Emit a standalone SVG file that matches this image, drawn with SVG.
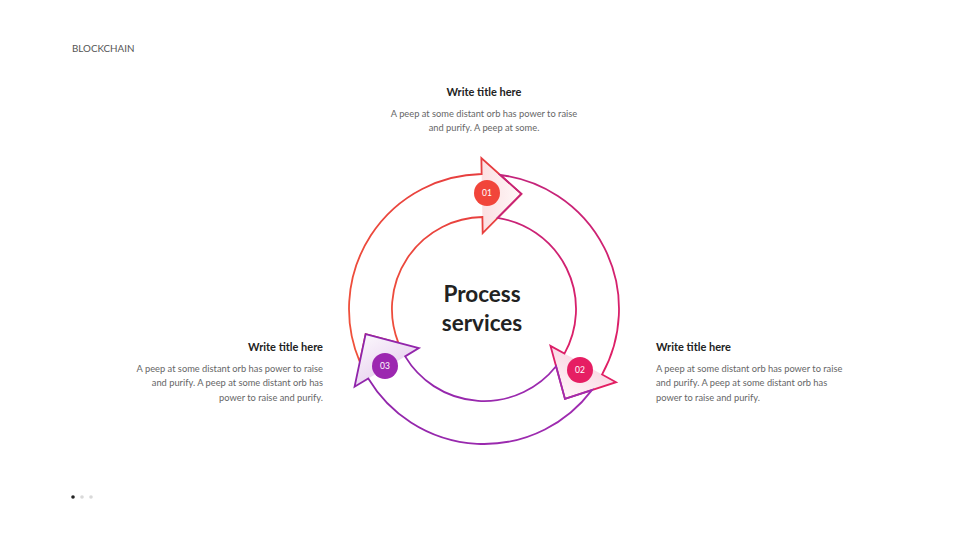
<svg xmlns="http://www.w3.org/2000/svg" width="960" height="540" viewBox="0 0 960 540">
<defs>
<style>
.hdr{font-family:Lato,"Liberation Sans",sans-serif;font-size:9.8px;fill:#555}
.ttl{font-family:Lato,"Liberation Sans",sans-serif;font-size:11px;font-weight:bold;fill:#222}
.body{font-family:Lato,"Liberation Sans",sans-serif;font-size:9.3px;fill:#666}
.center{font-family:Lato,"Liberation Sans",sans-serif;font-size:22.5px;font-weight:bold;fill:#222}
.num{font-family:Lato,"Liberation Sans",sans-serif;font-size:8.5px;fill:#fff}
.arrow{fill:none;stroke-width:1.8;stroke-linejoin:miter}
</style>
<linearGradient id="s1" x1="0" y1="1" x2="1" y2="0"><stop offset="0" stop-color="#f0523a"/><stop offset="1" stop-color="#e53a40"/></linearGradient>
<linearGradient id="s2" x1="0" y1="1" x2="1" y2="0"><stop offset="0" stop-color="#c2247c"/><stop offset="1" stop-color="#e61e60"/></linearGradient>
<linearGradient id="s3" x1="0" y1="1" x2="1" y2="0"><stop offset="0" stop-color="#a02cb0"/><stop offset="1" stop-color="#8e24aa"/></linearGradient>
<linearGradient id="h1" x1="0" y1="0" x2="1" y2="0"><stop offset="0" stop-color="#fbe0e2"/><stop offset="1" stop-color="#fff8f8"/></linearGradient>
<linearGradient id="h2" x1="0" y1="0" x2="1" y2="0"><stop offset="0" stop-color="#fadbe6"/><stop offset="1" stop-color="#fff7f9"/></linearGradient>
<linearGradient id="h3" x1="0" y1="0" x2="1" y2="0"><stop offset="0" stop-color="#ecdaf2"/><stop offset="1" stop-color="#fbf7fc"/></linearGradient>
<path id="arrowShape" d="M-125.1,50.7 A135,135 0 0 1 0,-135 L0,-151 L39.4,-114.4 L0,-76 L0,-92 A92,92 0 0 0 -86.2,32.3 L-118.8,23.1 Z"/>
<polygon id="headShape" points="0,-151 39.4,-114.4 0,-76"/>
</defs>
<rect width="960" height="540" fill="#fff"/>
<text class="hdr" x="72" y="52">BLOCKCHAIN</text>
<g id="connectors">
<g id="arrow1" transform="translate(484 309) rotate(-1)">
<use href="#headShape" fill="url(#h1)"/>
<use href="#arrowShape" class="arrow" stroke="url(#s1)"/>
</g>
<g id="arrow2" transform="translate(484 309) rotate(119)">
<use href="#headShape" fill="url(#h2)"/>
<use href="#arrowShape" class="arrow" stroke="url(#s2)"/>
</g>
<g id="arrow3" transform="translate(484 309) rotate(239)">
<use href="#headShape" fill="url(#h3)"/>
<use href="#arrowShape" class="arrow" stroke="url(#s3)"/>
</g>
</g>
<g id="center">
<text class="center" x="482" y="302" text-anchor="middle">Process</text>
<text class="center" x="482" y="331" text-anchor="middle">services</text>
</g>
<g id="badge1"><circle cx="487" cy="193" r="13" fill="#f1453a"/><text class="num" x="487" y="196" text-anchor="middle">01</text></g>
<g id="badge2"><circle cx="580" cy="370" r="13" fill="#e61e63"/><text class="num" x="580" y="373" text-anchor="middle">02</text></g>
<g id="badge3"><circle cx="385" cy="366" r="13" fill="#9c27b0"/><text class="num" x="385" y="369" text-anchor="middle">03</text></g>
<g id="block1">
<text class="ttl" x="484" y="96" text-anchor="middle">Write title here</text>
<text class="body" x="484" y="117" text-anchor="middle">A peep at some distant orb has power to raise</text>
<text class="body" x="484" y="131" text-anchor="middle">and purify. A peep at some.</text>
</g>
<g id="block3">
<text class="ttl" x="323" y="351" text-anchor="end">Write title here</text>
<text class="body" x="323" y="372" text-anchor="end">A peep at some distant orb has power to raise</text>
<text class="body" x="323" y="386" text-anchor="end">and purify. A peep at some distant orb has</text>
<text class="body" x="323" y="401" text-anchor="end">power to raise and purify.</text>
</g>
<g id="block2">
<text class="ttl" x="656" y="351">Write title here</text>
<text class="body" x="656" y="372">A peep at some distant orb has power to raise</text>
<text class="body" x="656" y="386">and purify. A peep at some distant orb has</text>
<text class="body" x="656" y="401">power to raise and purify.</text>
</g>
<g id="pager">
<circle cx="73" cy="497" r="1.8" fill="#222"/>
<circle cx="82" cy="497" r="1.8" fill="#d9d9d9"/>
<circle cx="91" cy="497" r="1.8" fill="#d9d9d9"/>
</g>
</svg>
